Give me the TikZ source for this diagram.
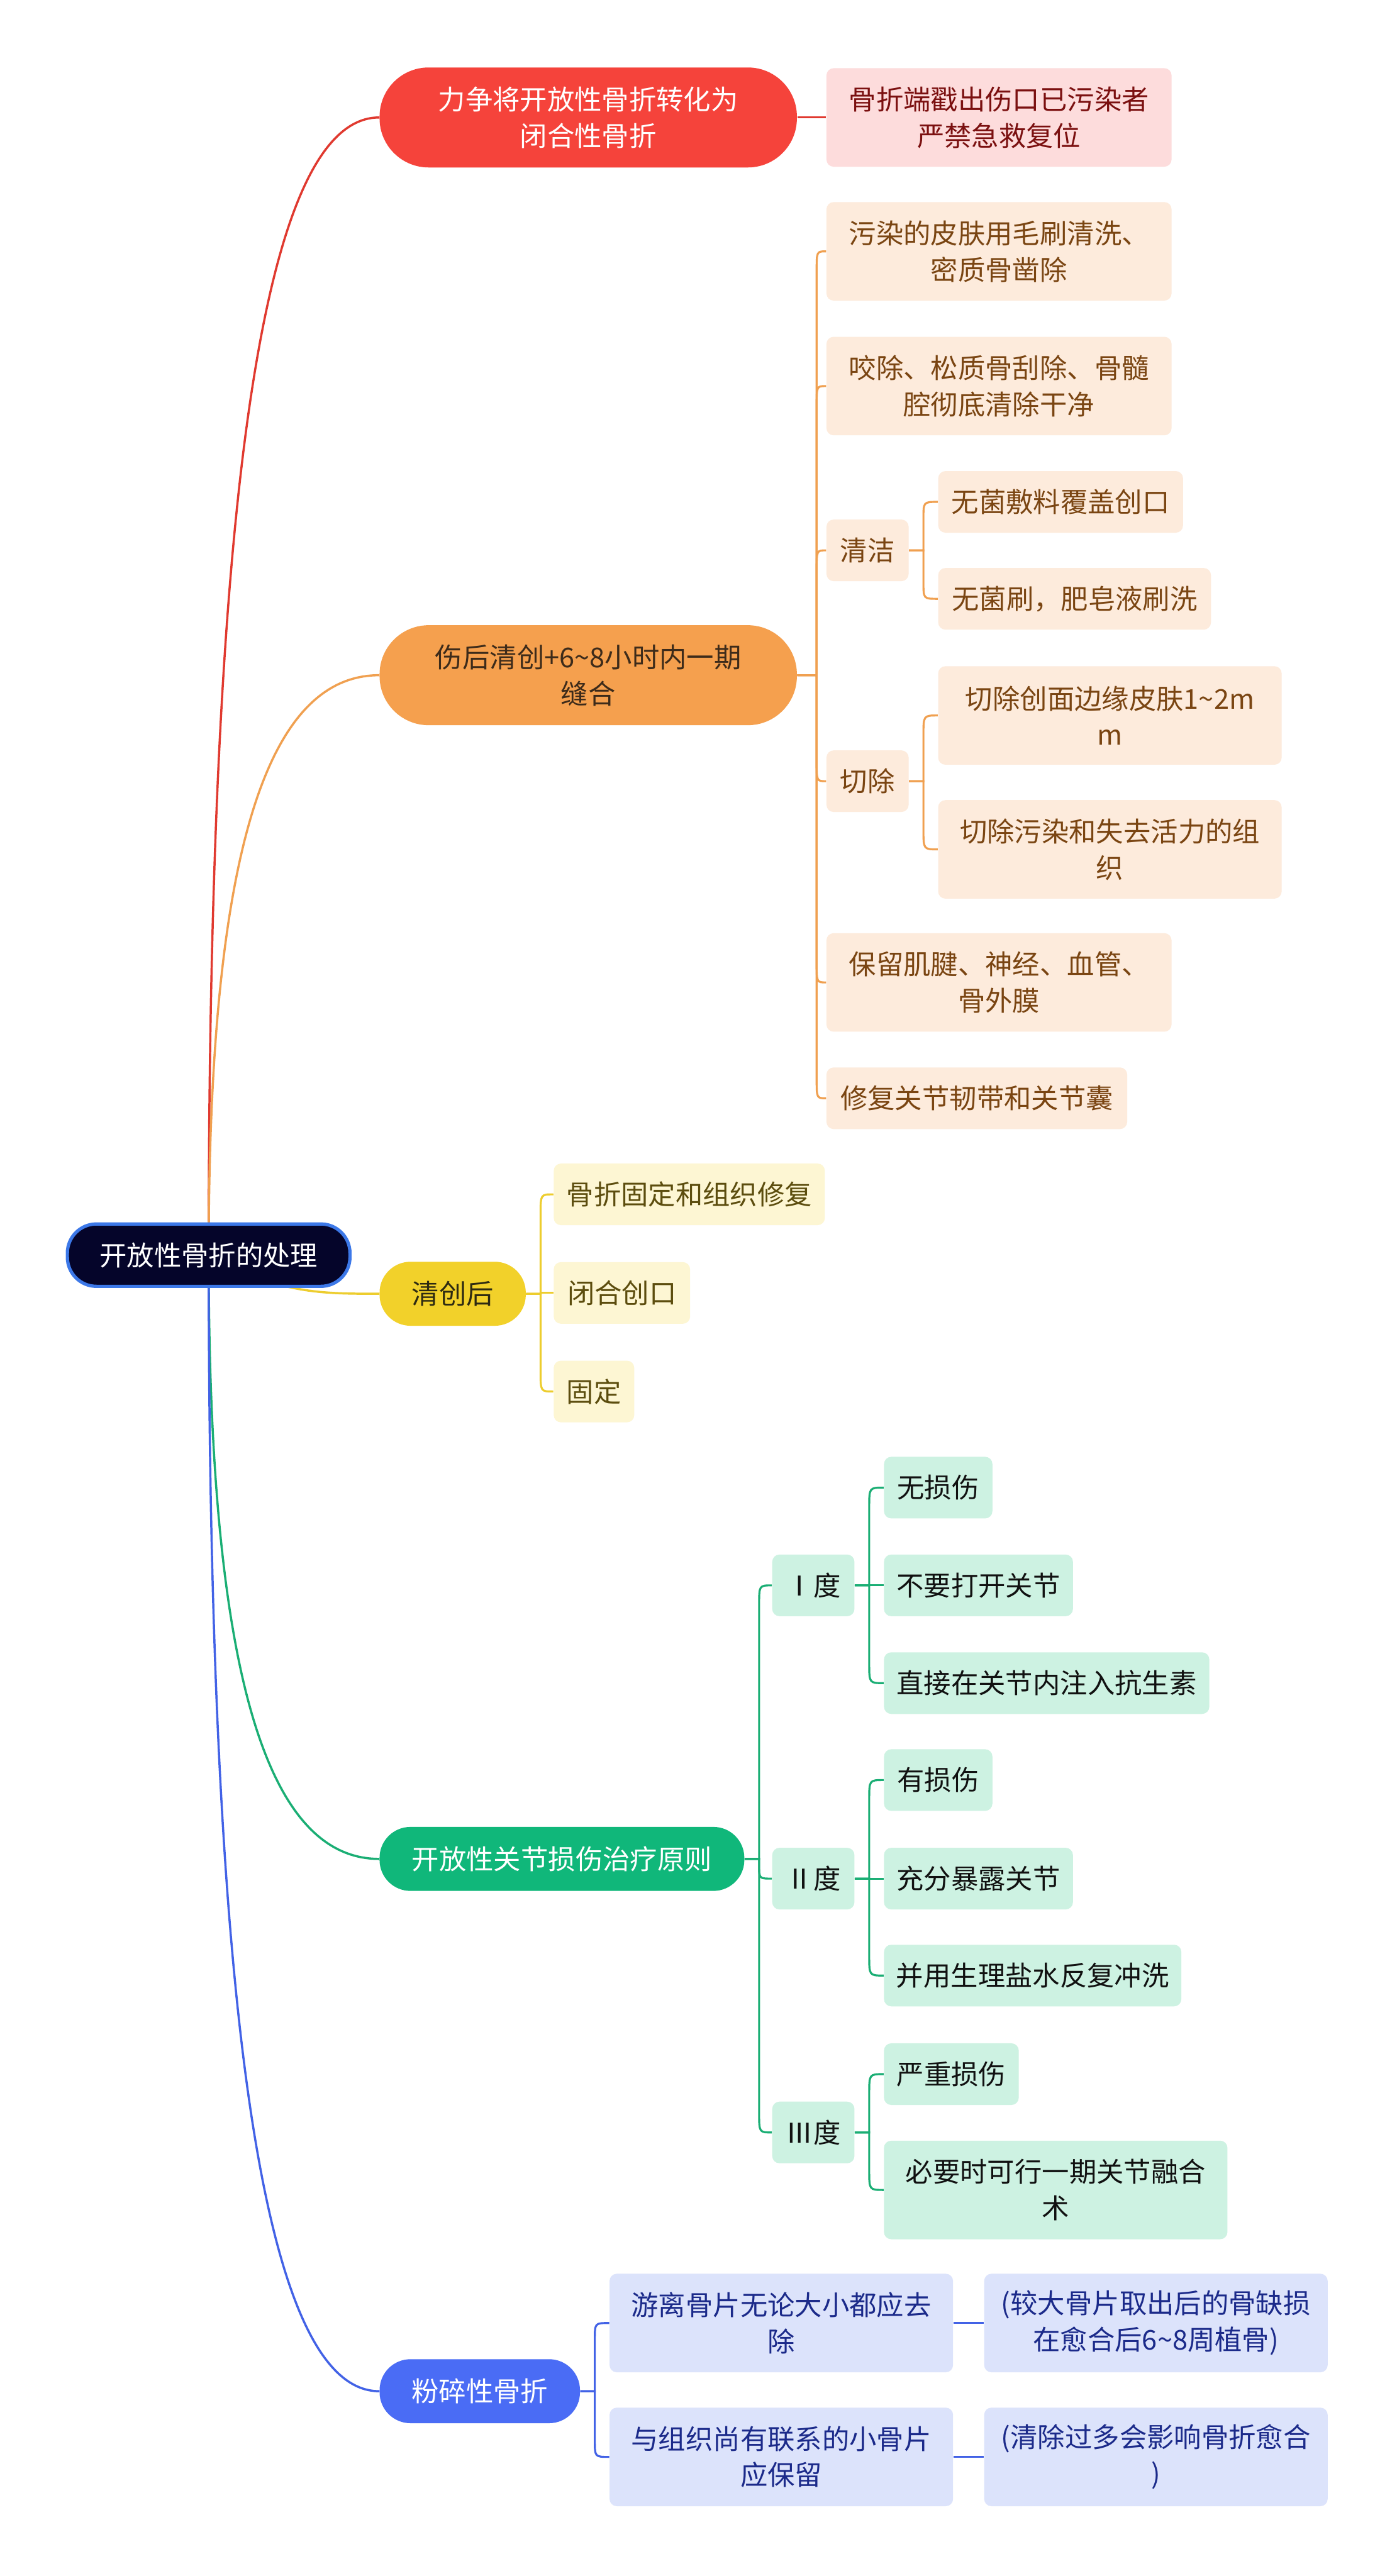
\documentclass[tikz,border=0pt]{standalone}
\usepackage{fontspec}
\setmainfont{Noto Sans CJK SC}
\usetikzlibrary{calc}
\pgfdeclarelayer{paper}
\pgfdeclarelayer{background}
\pgfsetlayers{paper,background,main}
\definecolor{rootc}{HTML}{05052A}
\definecolor{rootb}{HTML}{3C78E8}
\definecolor{redc}{HTML}{F5433B}
\definecolor{redl}{HTML}{E0392F}
\definecolor{pinkc}{HTML}{FDDCDC}
\definecolor{pinkt}{HTML}{7B1010}
\definecolor{orc}{HTML}{F5A04E}
\definecolor{orl}{HTML}{F0A050}
\definecolor{ort}{HTML}{3D2B1A}
\definecolor{orlight}{HTML}{FDEBDC}
\definecolor{orbt}{HTML}{7A4512}
\definecolor{yec}{HTML}{F2D12A}
\definecolor{yel}{HTML}{EDCD2E}
\definecolor{yet}{HTML}{2D2A12}
\definecolor{yelight}{HTML}{FDF6D3}
\definecolor{yebt}{HTML}{5C4D0E}
\definecolor{grc}{HTML}{10B77A}
\definecolor{grl}{HTML}{1AAE74}
\definecolor{grlight}{HTML}{CDF2E2}
\definecolor{grbt}{HTML}{111111}
\definecolor{blc}{HTML}{4A6CF5}
\definecolor{bll}{HTML}{4262E6}
\definecolor{bllight}{HTML}{DCE3FB}
\definecolor{blbt}{HTML}{1B2A8A}
\newcommand\fz{\fontsize{15}{20}\selectfont}
% #1 style, #2 spine coordinate, #3 parent, #4 child, #5 bend offset
\newcommand\lnk[5]{\draw[#1] (#3.east) -- (#2 |- #3.east) -- ($(#2 |- #4.west)+(0,#5)$) .. controls (#2 |- #4.west) .. (#4.west);}
\begin{document}
\begin{tikzpicture}[x=0.9036pt,y=-0.9036pt,
  base/.style={inner sep=0pt, align=center, font=\fz},
  rootbox/.style={base, fill=rootc, draw=rootb, line width=1.8pt, rounded corners=16pt, minimum width=155.4pt, minimum height=34.3pt, text=white},
  pilltwo/.style={base, rounded corners=27pt, minimum height=55pt},
  pillone/.style={base, rounded corners=17pt, minimum height=35.2pt},
  boxtwo/.style={base, rounded corners=4pt, minimum height=54.2pt},
  boxone/.style={base, rounded corners=4pt, minimum height=33.9pt},
  mainline/.style={line width=1.2pt},
  subline/.style={line width=1.1pt}]
\useasboundingbox (0,0) rectangle (850,1568);
\begin{pgfonlayer}{paper}
\fill[white] (0,0) rectangle (850,1568);
\end{pgfonlayer}

% root
\node[rootbox] (root) at (127,764) {开放性骨折的处理};

% red branch
\node[pilltwo, fill=redc, text=white, minimum width=229.5pt] (r) at (358,71.5) {力争将开放性骨折转化为\\闭合性骨折};
\node[boxtwo, fill=pinkc, text=pinkt, minimum width=189.8pt] (r1) at (608,71.5) {骨折端戳出伤口已污染者\\严禁急救复位};

% orange branch
\node[pilltwo, fill=orc, text=ort, minimum width=229.5pt] (o) at (358,411) {伤后清创+6\textasciitilde 8小时内一期\\缝合};
\node[boxtwo, fill=orlight, text=orbt, minimum width=189.8pt] (o1) at (608,153) {污染的皮肤用毛刷清洗、\\密质骨凿除};
\node[boxtwo, fill=orlight, text=orbt, minimum width=189.8pt] (o2) at (608,235) {咬除、松质骨刮除、骨髓\\腔彻底清除干净};
\node[boxone, fill=orlight, text=orbt, minimum width=45.2pt] (o3) at (528,335) {清洁};
\node[boxone, fill=orlight, text=orbt, minimum width=134.6pt] (o31) at (645.5,305.5) {无菌敷料覆盖创口};
\node[boxone, fill=orlight, text=orbt, minimum width=150pt] (o32) at (654,364.5) {无菌刷，肥皂液刷洗};
\node[boxone, fill=orlight, text=orbt, minimum width=45.2pt] (o4) at (528,475.5) {切除};
\node[boxtwo, fill=orlight, text=orbt, minimum width=188.9pt] (o41) at (675.5,435.5) {切除创面边缘皮肤1\textasciitilde 2m\\m};
\node[boxtwo, fill=orlight, text=orbt, minimum width=188.9pt] (o42) at (675.5,517) {切除污染和失去活力的组\\织};
\node[boxtwo, fill=orlight, text=orbt, minimum width=189.8pt] (o5) at (608,598) {保留肌腱、神经、血管、\\骨外膜};
\node[boxone, fill=orlight, text=orbt, minimum width=165.4pt] (o6) at (594.5,668.5) {修复关节韧带和关节囊};

% yellow branch
\node[pillone, fill=yec, text=yet, minimum width=80.4pt] (y) at (275.5,787.5) {清创后};
\node[boxone, fill=yelight, text=yebt, minimum width=149.1pt] (y1) at (419.5,727) {骨折固定和组织修复};
\node[boxone, fill=yelight, text=yebt, minimum width=75pt] (y2) at (378.5,787) {闭合创口};
\node[boxone, fill=yelight, text=yebt, minimum width=44.3pt] (y3) at (361.5,847) {固定};

% green branch
\node[pillone, fill=grc, text=white, minimum width=200.6pt] (g) at (342,1131.5) {开放性关节损伤治疗原则};
\node[boxone, fill=grlight, text=grbt, minimum width=45.2pt] (g1) at (495,965) {Ⅰ度};
\node[boxone, fill=grlight, text=grbt, minimum width=59.6pt] (g11) at (571,905.5) {无损伤};
\node[boxone, fill=grlight, text=grbt, minimum width=103.9pt] (g12) at (595.5,965) {不要打开关节};
\node[boxone, fill=grlight, text=grbt, minimum width=178.9pt] (g13) at (637,1024.5) {直接在关节内注入抗生素};
\node[boxone, fill=grlight, text=grbt, minimum width=45.2pt] (g2) at (495,1143.5) {Ⅱ度};
\node[boxone, fill=grlight, text=grbt, minimum width=59.6pt] (g21) at (571,1083.5) {有损伤};
\node[boxone, fill=grlight, text=grbt, minimum width=103.9pt] (g22) at (595.5,1143.5) {充分暴露关节};
\node[boxone, fill=grlight, text=grbt, minimum width=163.5pt] (g23) at (628.5,1202.5) {并用生理盐水反复冲洗};
\node[boxone, fill=grlight, text=grbt, minimum width=45.2pt] (g3) at (495,1298) {Ⅲ度};
\node[boxone, fill=grlight, text=grbt, minimum width=74.1pt] (g31) at (579,1262.5) {严重损伤};
\node[boxtwo, fill=grlight, text=grbt, minimum width=188.9pt] (g32) at (642.5,1333) {必要时可行一期关节融合\\术};

% blue branch
\node[pillone, fill=blc, text=white, minimum width=110.2pt] (b) at (292,1455.5) {粉碎性骨折};
\node[boxtwo, fill=bllight, text=blbt, minimum width=188.9pt] (b1) at (475.5,1414) {游离骨片无论大小都应去\\除};
\node[boxtwo, fill=bllight, text=blbt, minimum width=188.9pt] (b11) at (703.5,1414) {(较大骨片取出后的骨缺损\\在愈合后6\textasciitilde 8周植骨)};
\node[boxtwo, fill=bllight, text=blbt, minimum width=188.9pt] (b2) at (475.5,1495.5) {与组织尚有联系的小骨片\\应保留};
\node[boxtwo, fill=bllight, text=blbt, minimum width=188.9pt] (b21) at (703.5,1495.5) {(清除过多会影响骨折愈合\\)};

% spines
\coordinate (so) at (497,0);
\coordinate (sc) at (562,0);
\coordinate (sy) at (329,0);
\coordinate (sg) at (462,0);
\coordinate (sgg) at (529,0);
\coordinate (sb) at (362,0);

\begin{pgfonlayer}{background}
% root to main branches
\draw[mainline, redl] (root.center) .. controls (127,300) and (160,71.5) .. (r.west);
\draw[mainline, orl] (root.center) .. controls (127,527) and (160,411) .. (o.west);
\draw[mainline, yel] (root.center) .. controls (170,787.5) and (195,787.5) .. (y.west);
\draw[mainline, grl] (root.center) .. controls (127,1010) and (160,1131.5) .. (g.west);
\draw[mainline, bll] (root.center) .. controls (127,1227) and (160,1455.5) .. (b.west);

% red
\draw[subline, redl] (r.east) -- (r1.west);
% orange
\lnk{subline, orl}{so}{o}{o1}{12}
\lnk{subline, orl}{so}{o}{o2}{12}
\lnk{subline, orl}{so}{o}{o3}{12}
\lnk{subline, orl}{so}{o}{o4}{-12}
\lnk{subline, orl}{so}{o}{o5}{-12}
\lnk{subline, orl}{so}{o}{o6}{-12}
\lnk{subline, orl}{sc}{o3}{o31}{10}
\lnk{subline, orl}{sc}{o3}{o32}{-10}
\lnk{subline, orl}{sc}{o4}{o41}{12}
\lnk{subline, orl}{sc}{o4}{o42}{-12}
% yellow
\lnk{subline, yel}{sy}{y}{y1}{12}
\lnk{subline, yel}{sy}{y}{y2}{0}
\lnk{subline, yel}{sy}{y}{y3}{-12}
% green
\lnk{subline, grl}{sg}{g}{g1}{12}
\lnk{subline, grl}{sg}{g}{g2}{-8}
\lnk{subline, grl}{sg}{g}{g3}{-12}
\lnk{subline, grl}{sgg}{g1}{g11}{12}
\lnk{subline, grl}{sgg}{g1}{g12}{0}
\lnk{subline, grl}{sgg}{g1}{g13}{-12}
\lnk{subline, grl}{sgg}{g2}{g21}{12}
\lnk{subline, grl}{sgg}{g2}{g22}{0}
\lnk{subline, grl}{sgg}{g2}{g23}{-12}
\lnk{subline, grl}{sgg}{g3}{g31}{12}
\lnk{subline, grl}{sgg}{g3}{g32}{-12}
% blue
\lnk{subline, bll}{sb}{b}{b1}{10}
\lnk{subline, bll}{sb}{b}{b2}{-10}
\draw[subline, bll] (b1.east) -- (b11.west);
\draw[subline, bll] (b2.east) -- (b21.west);
\end{pgfonlayer}
\end{tikzpicture}
\end{document}
